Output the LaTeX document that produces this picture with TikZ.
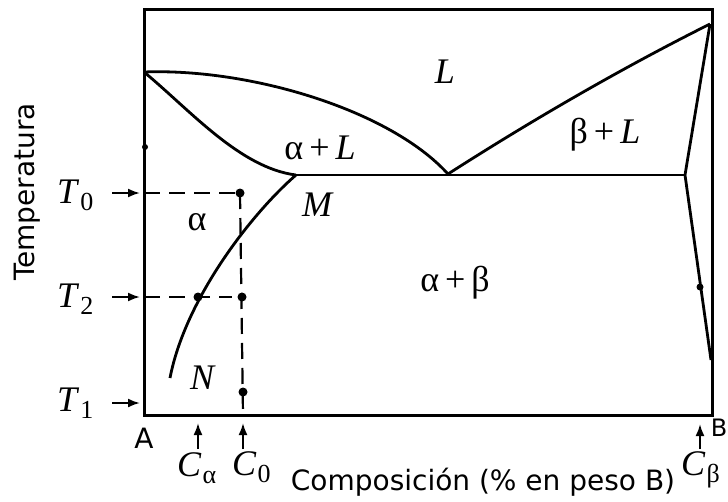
\documentclass[tikz,border=0pt]{standalone}
\usepackage{fontspec}
\setmainfont{Liberation Serif}
\setsansfont{DejaVu Sans}
\usetikzlibrary{arrows.meta, positioning}
\newcommand{\withsub}[2]{\textit{#1}\kern1pt\raisebox{-0.45ex}{\fontsize{26}{30}\selectfont #2}}

\begin{document}
\begin{tikzpicture}[
			x=1pt, y=-1pt,
			every node/.style={font=\fontsize{36}{40}\selectfont, inner sep=0pt},
			frame/.style={line width=3pt},
			phase/.style={line width=2.8pt},
			guide/.style={line width=2.2pt, dash pattern=on 16pt off 9pt},
			point/.style={circle, fill, inner sep=0pt, minimum size=9pt},
			arrow/.style={
				-{Latex[length=12pt,width=9pt]},
				line width=2pt
			},
			sflabel/.style={font=\sffamily\fontsize{28}{32}\selectfont}
			]
			
			\useasboundingbox (0,0) rectangle (728,501);
			
			% key points of the diagram
			\coordinate (meltA) at (144,72);
			\coordinate (meltB) at (710,24);
			\coordinate (eut) at (448,174);
			\coordinate (M) at (296,175);
			\coordinate (betaE) at (685,175);
			\coordinate (betaN) at (711,360);
			\coordinate (N) at (170,378);
			
			\draw[frame] (144,9) rectangle (712,415);
			
			% liquidus, solidus and solvus lines
			\draw[phase] (meltA) .. controls (250,68) and (390,110) .. (eut);
			\draw[phase] (meltA) .. controls (190,110) and (240,168) .. (M);
			\draw[phase] (M) -- (betaE);
			\draw[phase] (eut) .. controls (540,115) and (630,64) .. (meltB);
			\draw[phase] (meltB) -- (betaE) -- (betaN);
			\draw[phase] (M) .. controls (250,215) and (185,300) .. (N);
			
			% guide lines
			\coordinate (p0) at (240,193);
			\coordinate (pa) at (198,297);
			\coordinate (p2) at (242,297);
			\coordinate (p1) at (243,392);
			\draw[guide] (144,193) -- (p0);
			\draw[guide] (144,297) -- (232,297);
			\draw[guide] (p0) -- (243,415);
			
			\node[point] (dot0) at (p0) {};
			\node[point] (dota) at (pa) {};
			\node[point] (dot2) at (p2) {};
			\node[point] (dot1) at (p1) {};
			\node[point, minimum size=7pt] (dotb) at (700,287) {};
			\node[point, minimum size=6pt] (dotl) at (145,147) {};
			
			% region labels
			\node (liq) at (445,72) {\textit{L}};
			\node (aL) at (320,148) {α\,+\,\textit{L}};
			\node (bL) at (605,135) {β\,+\,\textit{L}};
			\node (alpha) at (197,222) {α};
			\node (lblM) at (318,205) {\textit{M}};
			\node (ab) at (455,283) {α\,+\,β};
			\node (lblN) at (203,378) {\textit{N}};
			
			% temperature axis
			\node[sflabel, rotate=90] (temp) at (27,192) {Temperatura};
			\node[anchor=base west] (T0) at (57,203) {\withsub{T}{0}};
			\node[anchor=base west] (T2) at (57,307) {\withsub{T}{2}};
			\node[anchor=base west] (T1) at (57,411) {\withsub{T}{1}};
			\coordinate (y0) at (140,193);
			\coordinate (y2) at (140,297);
			\coordinate (y1) at (140,403);
			\draw[arrow] (112,193) -- (y0);
			\draw[arrow] (112,297) -- (y2);
			\draw[arrow] (112,403) -- (y1);
			
			% composition axis
			\node[sflabel, anchor=base] (A) at (144,448) {A};
			\node[anchor=base east, font=\sffamily\fontsize{24}{28}\selectfont] (B) at (727.5,436) {B};
			\node[anchor=base west] (Ca) at (177,476) {\withsub{C}{α}};
			\node[anchor=base west] (C0) at (232,475) {\withsub{C}{0}};
			\node[anchor=base west] (Cb) at (681,475) {\withsub{C}{β}};
			\node[sflabel, anchor=base] (comp) at (483,490) {Composición (\% en peso B)};
			\coordinate (xa) at (198,423);
			\coordinate (x0) at (243,423);
			\coordinate (xb) at (700,424);
			\draw[arrow] (198,449) -- (xa);
			\draw[arrow] (243,449) -- (x0);
			\draw[arrow] (700,449) -- (xb);
			
		\end{tikzpicture}
\end{document}
